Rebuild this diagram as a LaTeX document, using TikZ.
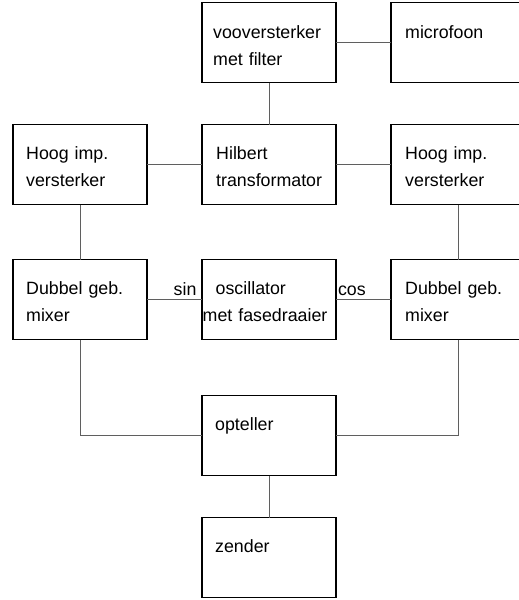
\documentclass[tikz,border=0pt]{standalone}
\usepackage{fontspec}
\setmainfont{Liberation Sans}
\usetikzlibrary{positioning}
\definecolor{wiregray}{RGB}{95,95,95}

\begin{document}
\begin{tikzpicture}[
  x=1pt, y=-1pt,
  node distance = 42pt and 55pt,
  box/.style = {
    draw=black, line width=1.1pt, outer sep=0pt,
    minimum width=134pt, minimum height=80pt, inner sep=0pt
  },
  txt/.style = {
    anchor=base west, inner sep=0pt, text width=130pt, align=left,
    font=\fontsize{17.8}{27}\selectfont
  },
  lbl/.style = { inner sep=0pt, font=\fontsize{17.8}{21}\selectfont },
  wire/.style = { draw=wiregray, line width=1pt }
]
\useasboundingbox[fill=white] (0,0) rectangle (519,600);

% boxes
\node[box] (voor) at (269,42.5) {};
\node[box, right=of voor]              (micro) {};
\node[box, below=of voor]              (hilb)  {};
\node[box, left=of hilb]               (hoogL) {};
\node[box, right=of hilb]              (hoogR) {};
\node[box, below=55pt of hilb]         (osc)   {};
\node[box, left=of osc]                (mixL)  {};
\node[box, right=of osc]               (mixR)  {};
\node[box, below=56pt of osc]          (opt)   {};
\node[box, below=of opt]               (zend)  {};

% texts
\node[txt] (voor-t)  at ([shift={(11pt,-36pt)}]voor.north west)  {vooversterker\\met filter};
\node[txt] (micro-t) at ([shift={(14pt,-36pt)}]micro.north west) {microfoon};
\node[txt] (hilb-t)  at ([shift={(14pt,-35pt)}]hilb.north west)  {Hilbert\\transformator};
\node[txt] (hoogL-t) at ([shift={(13pt,-35pt)}]hoogL.north west) {Hoog imp.\\versterker};
\node[txt] (hoogR-t) at ([shift={(14pt,-35pt)}]hoogR.north west) {Hoog imp.\\versterker};
\node[txt] (osc-t)   at ([shift={(0.5pt,-35pt)}]osc.north west)  {\hspace*{13pt}oscillator\\met fasedraaier};
\node[txt] (mixL-t)  at ([shift={(13pt,-35pt)}]mixL.north west)  {Dubbel geb.\\mixer};
\node[txt] (mixR-t)  at ([shift={(14pt,-35pt)}]mixR.north west)  {Dubbel geb.\\mixer};
\node[txt] (opt-t)   at ([shift={(13pt,-35pt)}]opt.north west)   {opteller};
\node[txt] (zend-t)  at ([shift={(13pt,-35pt)}]zend.north west)  {zender};

% connections
\draw[wire] (voor) -- (micro);
\draw[wire] (voor) -- (hilb);
\draw[wire] (hoogL) -- (hilb);
\draw[wire] (hilb) -- (hoogR);
\draw[wire] (hoogL) -- (mixL);
\draw[wire] (hoogR) -- (mixR);
\draw[wire] (mixL) -- node[lbl, pos=1, anchor=base east, xshift=-5pt, yshift=4.5pt] (sin) {sin} (osc);
\draw[wire] (osc) -- node[lbl, pos=0, anchor=base west, xshift=1.5pt, yshift=4.5pt] (cos) {cos} (mixR);
\draw[wire] (mixL.south) |- (opt.west);
\draw[wire] (mixR.south) |- (opt.east);
\draw[wire] (opt) -- (zend);

\end{tikzpicture}
\end{document}
